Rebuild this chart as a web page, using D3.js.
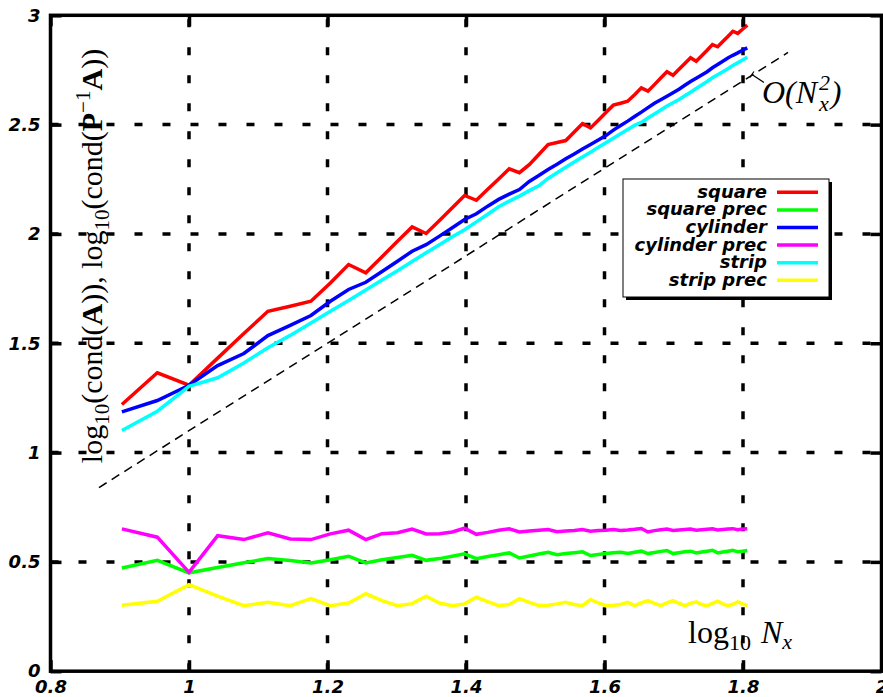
<!doctype html>
<html>
<head>
<meta charset="utf-8">
<title>Condition numbers</title>
<script src="https://cdnjs.cloudflare.com/ajax/libs/d3/7.8.5/d3.min.js"></script>
<style>
  body { margin: 0; background: #fff; }
  .tick text { font-family: 'DejaVu Sans', sans-serif; font-weight: bold; font-style: italic; font-size: 18px; fill: #000; }
  .tick line { stroke: #000; stroke-width: 3.5; }
  .legend text { font-family: 'DejaVu Sans', sans-serif; font-weight: bold; font-style: italic; font-size: 18px; }
  .math { font-family: 'Liberation Serif', serif; fill: #000; }
</style>
</head>
<body>
<div id="chart"></div>
<script>
// grid sizes N_x used in the runs
var nx = [8, 9, 10, 11, 12, 13, 14, 15, 16, 17, 18, 19, 20, 21, 22, 23, 24, 25, 26, 27,
  28, 29, 30, 31, 32, 33, 34, 35, 36, 37, 38, 39, 40, 41, 42, 43, 44, 45, 46, 47,
  48, 49, 50, 51, 52, 53, 54, 55, 56, 57, 58, 59, 60, 61, 62, 63, 64];

// log10 of condition numbers
var square = [1.220, 1.365, 1.308, 1.432, 1.545, 1.646, 1.669, 1.692, 1.776, 1.860,
  1.822, 1.896, 1.966, 2.032, 2.002, 2.062, 2.120, 2.176, 2.154, 2.204,
  2.251, 2.298, 2.280, 2.317, 2.363, 2.409, 2.418, 2.427, 2.466, 2.504,
  2.485, 2.520, 2.555, 2.589, 2.598, 2.607, 2.637, 2.668, 2.653, 2.683,
  2.713, 2.742, 2.726, 2.753, 2.780, 2.806, 2.790, 2.815, 2.840, 2.866,
  2.856, 2.880, 2.903, 2.927, 2.917, 2.936, 2.955];
var squarePrec = [0.472, 0.507, 0.450, 0.474, 0.496, 0.515, 0.506, 0.495, 0.510, 0.526,
  0.495, 0.510, 0.520, 0.530, 0.507, 0.515, 0.526, 0.537, 0.515, 0.525,
  0.533, 0.541, 0.518, 0.527, 0.536, 0.544, 0.533, 0.538, 0.542, 0.546,
  0.529, 0.534, 0.538, 0.542, 0.544, 0.538, 0.544, 0.549, 0.538, 0.543,
  0.548, 0.552, 0.538, 0.542, 0.546, 0.549, 0.541, 0.545, 0.549, 0.553,
  0.541, 0.545, 0.549, 0.553, 0.546, 0.549, 0.552];
var cylinder = [1.186, 1.238, 1.308, 1.398, 1.453, 1.535, 1.582, 1.627, 1.692, 1.746,
  1.779, 1.828, 1.875, 1.921, 1.951, 1.990, 2.028, 2.066, 2.092, 2.127,
  2.158, 2.182, 2.203, 2.240, 2.267, 2.295, 2.319, 2.344, 2.366, 2.388,
  2.409, 2.430, 2.450, 2.475, 2.496, 2.516, 2.537, 2.557, 2.578, 2.598,
  2.614, 2.630, 2.646, 2.662, 2.680, 2.697, 2.712, 2.727, 2.742, 2.760,
  2.775, 2.790, 2.805, 2.817, 2.828, 2.840, 2.851];
var cylinderPrec = [0.651, 0.613, 0.452, 0.620, 0.602, 0.633, 0.605, 0.602, 0.628, 0.645,
  0.602, 0.629, 0.633, 0.650, 0.628, 0.629, 0.637, 0.654, 0.626, 0.635,
  0.645, 0.651, 0.637, 0.641, 0.645, 0.648, 0.638, 0.641, 0.644, 0.648,
  0.640, 0.643, 0.645, 0.648, 0.644, 0.646, 0.649, 0.653, 0.637, 0.643,
  0.647, 0.650, 0.644, 0.646, 0.648, 0.650, 0.645, 0.647, 0.649, 0.651,
  0.646, 0.648, 0.650, 0.652, 0.647, 0.650, 0.652];
var strip = [1.101, 1.189, 1.303, 1.342, 1.410, 1.479, 1.536, 1.593, 1.646, 1.696,
  1.744, 1.789, 1.832, 1.874, 1.914, 1.951, 1.987, 2.019, 2.055, 2.090,
  2.124, 2.150, 2.173, 2.198, 2.220, 2.254, 2.280, 2.305, 2.329, 2.352,
  2.374, 2.396, 2.417, 2.438, 2.458, 2.478, 2.497, 2.510, 2.530, 2.549,
  2.567, 2.585, 2.600, 2.615, 2.632, 2.648, 2.665, 2.681, 2.697, 2.714,
  2.728, 2.742, 2.756, 2.770, 2.783, 2.796, 2.808];
var stripPrec = [0.302, 0.320, 0.396, 0.343, 0.300, 0.315, 0.300, 0.332, 0.300, 0.312,
  0.354, 0.323, 0.300, 0.309, 0.343, 0.312, 0.300, 0.308, 0.338, 0.318,
  0.300, 0.305, 0.332, 0.315, 0.300, 0.302, 0.308, 0.315, 0.305, 0.300,
  0.328, 0.312, 0.300, 0.302, 0.305, 0.315, 0.300, 0.312, 0.323, 0.310,
  0.300, 0.312, 0.323, 0.310, 0.300, 0.310, 0.317, 0.305, 0.300, 0.310,
  0.320, 0.308, 0.300, 0.306, 0.317, 0.308, 0.300];

var seriesNames = ["square", "square prec", "cylinder", "cylinder prec", "strip", "strip prec"];
var seriesColors = ["#ff0000", "#00ff00", "#0000ff", "#ff00ff", "#00ffff", "#ffff00"];
var seriesValues = [square, squarePrec, cylinder, cylinderPrec, strip, stripPrec];

// O(N_x^2) guide line, slope 2 in log-log
var refX = [0.87, 1.865];
var refY = [0.84, 2.83];

var xTicks = [0.8, 1, 1.2, 1.4, 1.6, 1.8, 2];
var yTicks = [0, 0.5, 1, 1.5, 2, 2.5, 3];

var width = 883, height = 697;
var margin = { top: 15.3, right: 1.5, bottom: 25.8, left: 50.5 };

var x = d3.scaleLinear().domain([0.8, 2]).range([margin.left, width - margin.right]);
var y = d3.scaleLinear().domain([0, 3]).range([height - margin.bottom, margin.top]);
var fmt = d => String(+d.toFixed(1));

var svg = d3.select("#chart").append("svg").attr("width", width).attr("height", height);

// dashed grid
var grid = svg.append("g").attr("stroke", "#000").attr("stroke-width", 3.5).attr("stroke-dasharray", "8 20");
grid.selectAll(".vg").data(xTicks.slice(1, -1)).join("line")
  .attr("x1", d => x(d)).attr("x2", d => x(d))
  .attr("y1", y(0)).attr("y2", y(3));
grid.selectAll(".hg").data(yTicks.slice(1, -1)).join("line")
  .attr("x1", x(0.8)).attr("x2", x(2))
  .attr("y1", d => y(d)).attr("y2", d => y(d));

// reference slope line
svg.append("path")
  .attr("d", d3.line()(refX.map((d, i) => [x(d), y(refY[i])])))
  .attr("fill", "none").attr("stroke", "#000").attr("stroke-width", 1.5)
  .attr("stroke-dasharray", "9 6");

// data
var line = d3.line().x((d, i) => x(Math.log10(nx[i]))).y(d => y(d));
svg.append("g").selectAll("path").data(seriesValues).join("path")
  .attr("d", d => line(d))
  .attr("fill", "none")
  .attr("stroke", (d, i) => seriesColors[i])
  .attr("stroke-width", 3.5)
  .attr("stroke-linejoin", "miter");

// axes, ticks pointing inward
svg.append("g").attr("transform", `translate(0,${y(0)})`)
  .call(d3.axisBottom(x).tickValues(xTicks).tickFormat(fmt).tickSizeInner(-11).tickSizeOuter(0).tickPadding(9))
  .call(g => g.select(".domain").remove());
svg.append("g").attr("transform", `translate(0,${y(3)})`)
  .call(d3.axisTop(x).tickValues(xTicks).tickFormat("").tickSizeInner(-11).tickSizeOuter(0))
  .call(g => g.select(".domain").remove());
svg.append("g").attr("transform", `translate(${x(0.8)},0)`)
  .call(d3.axisLeft(y).tickValues(yTicks).tickFormat(fmt).tickSizeInner(-11).tickSizeOuter(0).tickPadding(10))
  .call(g => g.select(".domain").remove());
svg.append("g").attr("transform", `translate(${x(2)},0)`)
  .call(d3.axisRight(y).tickValues(yTicks).tickFormat("").tickSizeInner(-11).tickSizeOuter(0))
  .call(g => g.select(".domain").remove());
svg.selectAll(".tick text").attr("font-family", null).attr("font-size", null);

svg.append("rect")
  .attr("x", x(0.8)).attr("y", y(3))
  .attr("width", x(2) - x(0.8)).attr("height", y(0) - y(3))
  .attr("fill", "none").attr("stroke", "#000").attr("stroke-width", 3.5);

// legend
var legend = svg.append("g").attr("class", "legend").attr("transform", "translate(623,179)");
legend.append("rect").attr("x", 3).attr("y", 3).attr("width", 206).attr("height", 118).attr("fill", "#000");
legend.append("rect").attr("width", 206).attr("height", 118).attr("fill", "#fff").attr("stroke", "#000").attr("stroke-width", 1);
var rows = legend.selectAll(".row").data(seriesNames).join("g")
  .attr("transform", (d, i) => `translate(0,${13.3 + i * 17.6})`);
rows.append("text").attr("x", 144).attr("y", 5.5).attr("text-anchor", "end").text(d => d);
rows.append("line").attr("x1", 154).attr("x2", 195).attr("stroke", (d, i) => seriesColors[i]).attr("stroke-width", 3.5);

// y label
var yl = svg.append("text").attr("class", "math")
  .attr("transform", "translate(102,256) rotate(-90)")
  .attr("text-anchor", "middle").attr("font-size", 30);
yl.append("tspan").text("log");
yl.append("tspan").attr("font-size", 21).attr("dy", 7).text("10");
yl.append("tspan").attr("dy", -7).text("(cond(");
yl.append("tspan").attr("font-weight", "bold").text("A");
yl.append("tspan").text(")), log");
yl.append("tspan").attr("font-size", 21).attr("dy", 7).text("10");
yl.append("tspan").attr("dy", -7).text("(cond(");
yl.append("tspan").attr("font-weight", "bold").text("P");
yl.append("tspan").attr("font-size", 21).attr("dy", -12).text("\u22121");
yl.append("tspan").attr("font-weight", "bold").attr("dy", 12).text("A");
yl.append("tspan").text("))");

// x label
var xl = svg.append("text").attr("class", "math")
  .attr("x", 688).attr("y", 643).attr("font-size", 32);
xl.append("tspan").text("log");
xl.append("tspan").attr("font-size", 22).attr("dy", 7).text("10");
xl.append("tspan").attr("dy", -7).attr("dx", 10).attr("font-style", "italic").text("N");
xl.append("tspan").attr("font-size", 22).attr("dy", 6).attr("font-style", "italic").text("x");

// O(N_x^2) annotation
var ax = x(1.81), ay = y(2.72);
svg.append("line").attr("x1", ax + 2).attr("y1", ay - 2).attr("x2", ax + 14).attr("y2", ay + 6)
  .attr("stroke", "#000").attr("stroke-width", 1.2);
svg.append("line").attr("x1", ax).attr("y1", ay + 1).attr("x2", ax + 4).attr("y2", ay - 5)
  .attr("stroke", "#000").attr("stroke-width", 1.2);
var on = svg.append("text").attr("class", "math").attr("font-style", "italic")
  .attr("x", ax + 12).attr("y", ay + 26).attr("font-size", 32);
on.append("tspan").text("O(N");
on.append("tspan").attr("font-size", 22).attr("dy", -13).attr("dx", 2).text("2");
on.append("tspan").attr("font-size", 22).attr("dy", 21).attr("dx", -11).text("x");
on.append("tspan").attr("dy", -8).attr("dx", 2).text(")");
</script>
</body>
</html>
